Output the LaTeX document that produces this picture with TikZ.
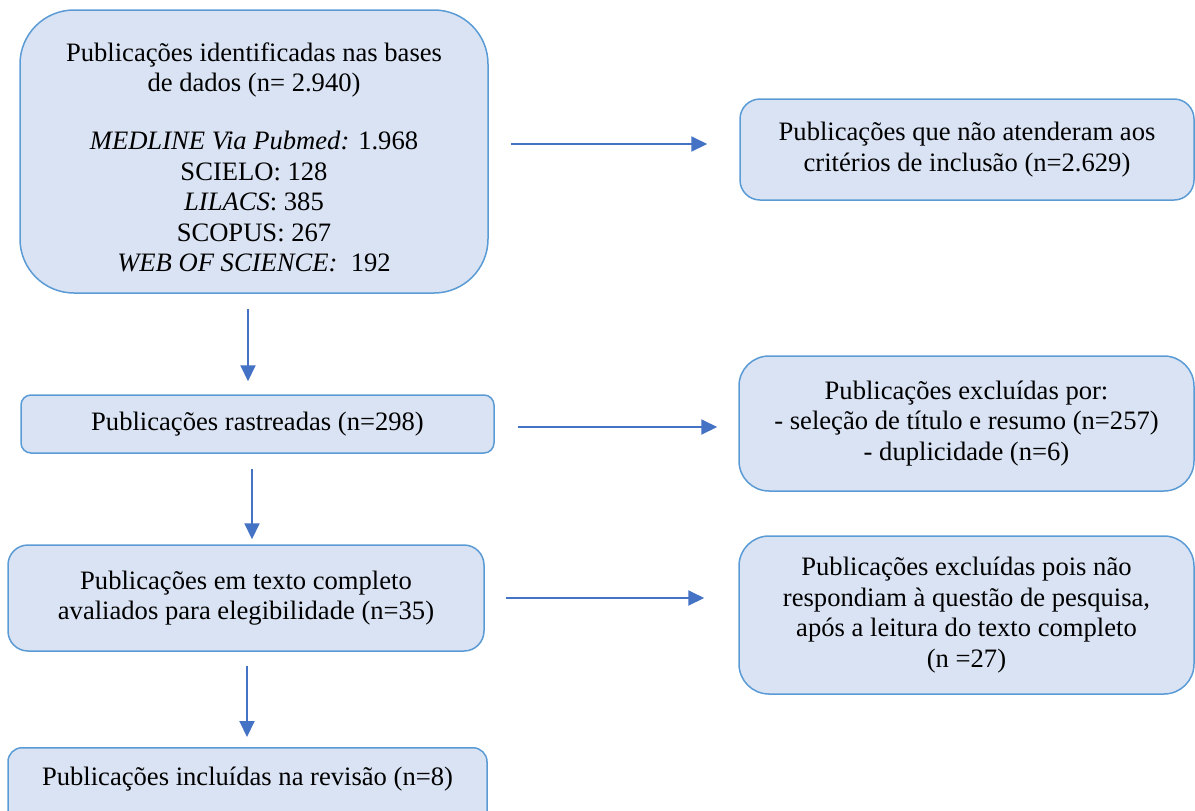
\documentclass[tikz,border=0pt]{standalone}
\usepackage{fontspec}
\setmainfont{Liberation Serif}
\usetikzlibrary{arrows.meta,calc}
\definecolor{boxfill}{HTML}{DAE3F3}
\definecolor{boxline}{HTML}{5B9BD5}
\definecolor{arrowblue}{HTML}{4472C4}

\begin{document}
\begin{tikzpicture}[
  x=0.5pt, y=-0.5pt,
  box/.style={draw=boxline, line width=0.75pt, fill=boxfill, align=center, inner sep=3pt, font=\fontsize{13.3}{15.2}\selectfont},
  arr/.style={draw=arrowblue, line width=1pt, -{Triangle[length=8pt,width=7.5pt]}}
]
\clip (0,0) rectangle (1195,810);
\node[box, rounded corners=27pt, minimum width=234pt, minimum height=141.5pt] (ident) at (254,151.5)
  {\rule{0pt}{15pt}Publicações identificadas nas bases\\ de dados (n= 2.940)\\[14pt]
   \textit{MEDLINE Via Pubmed:} 1.968\\ SCIELO: 128\\ \textit{LILACS}: 385\\ SCOPUS: 267\\
   \textit{WEB OF SCIENCE:}~~192};
\node[box, rounded corners=5pt, minimum width=236.5pt, minimum height=29pt] (track) at (257.5,424)
  {Publicações rastreadas (n=298)};
\node[box, rounded corners=10pt, minimum width=238pt, minimum height=53pt] (full) at (246,598)
  {Publicações em texto completo\\ avaliados para elegibilidade (n=35)};
\node[box, rounded corners=7pt, minimum width=239.5pt, anchor=north, text height=15pt, text depth=18.5pt, inner ysep=4pt] (incl) at (247.5,747)
  {Publicações incluídas na revisão (n=8)};
\node[box, rounded corners=10pt, minimum width=227pt, minimum height=50.5pt] (notmet) at (967,149.5)
  {Publicações que não atenderam aos\\ critérios de inclusão (n=2.629)};
\node[box, rounded corners=15pt, minimum width=227.5pt, minimum height=67.5pt] (dup) at (966.5,423.5)
  {Publicações excluídas por:\\ - seleção de título e resumo (n=257)\\ - duplicidade (n=6)};
\node[box, rounded corners=15pt, minimum width=227.5pt, minimum height=79pt] (noanswer) at (966.5,615)
  {Publicações excluídas pois não\\ respondiam à questão de pesquisa,\\ após a leitura do texto completo\\ (n =27)};

\draw[arr, shorten <=7.5pt, shorten >=6.5pt] ([xshift=-3pt]ident.south) -- ([xshift=-3pt]ident.south |- track.north);
\draw[arr, shorten <=7.5pt, shorten >=2.5pt] ([xshift=-2.75pt]track.south) -- ([xshift=-2.75pt]track.south |- full.north);
\draw[arr, shorten <=7pt, shorten >=5pt] ([xshift=0.5pt]full.south) -- ([xshift=0.5pt]full.south |- incl.north);
\draw[arr, shorten <=11pt, shorten >=16pt] ([yshift=3.75pt]ident.east) -- ([yshift=3.75pt]ident.east -| notmet.west);
\draw[arr, shorten <=11.5pt, shorten >=10.5pt] ([yshift=-1.5pt]track.east) -- ([yshift=-1.5pt]track.east -| dup.west);
\draw[arr, shorten <=10.5pt, shorten >=17pt] (full.east) -- (full.east -| noanswer.west);
\end{tikzpicture}
\end{document}
